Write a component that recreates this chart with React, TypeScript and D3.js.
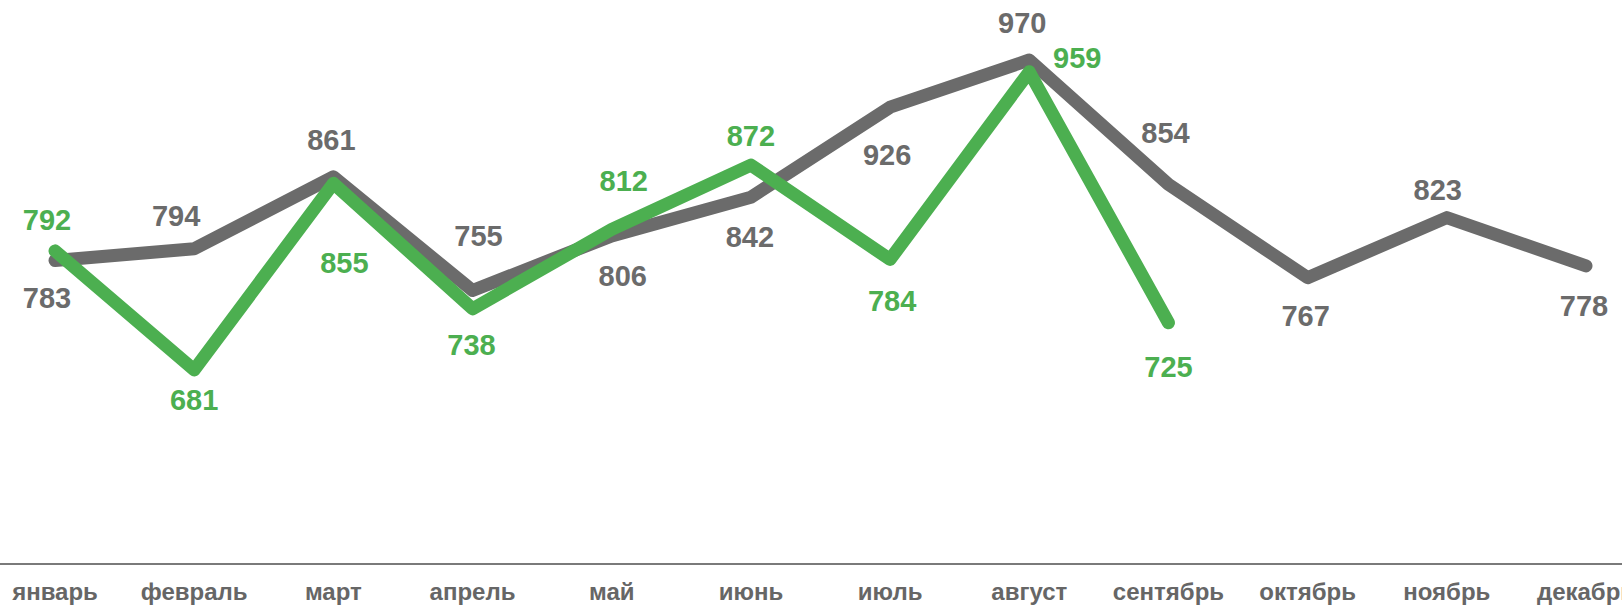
import React, { useEffect, useRef } from "react"
import * as d3 from "d3"

// months on the x axis
const months = [
  "январь", "февраль", "март", "апрель", "май", "июнь",
  "июль", "август", "сентябрь", "октябрь", "ноябрь", "декабрь",
]
// previous year (gray) and current year (green)
const grayValues = [783, 794, 861, 755, 806, 842, 926, 970, 854, 767, 823, 778]
const greenValues = [792, 681, 855, 738, 812, 872, 784, 959, 725]

// label offsets from the point (dx, dy of label centre)
const grayLabelDx = [-8, -18, -2, 6, 11, -1, -3, -7, -3, -2, -9, -2]
const grayLabelDy = [37, -33, -37, -55, 40, 39, 47, -37, -52, 38, -28, 40]
const greenLabelDx = [-8, 0, 11, -1, 12, 0, 2, 48, 0]
const greenLabelDy = [-31, 30, 79, 36, -49, -30, 41, -14, 44]

const W = 1622
const H = 605
const GRAY = "#6b6b6b"
const GREEN = "#4caf50"

export default function App() {
  const ref = useRef<SVGSVGElement>(null)

  useEffect(() => {
    document.body.style.margin = "0"
    const svg = d3.select(ref.current)
    svg.selectAll("*").remove()

    const x = d3.scalePoint<string>().domain(months).range([55, 1586])
    const y = d3.scaleLinear().domain([500, 970]).range([564, 60])

    const line = d3
      .line<number>()
      .x((d, i) => x(months[i]) as number)
      .y(d => y(d))

    // axis line
    svg
      .append("line")
      .attr("x1", 0)
      .attr("x2", W)
      .attr("y1", y(500))
      .attr("y2", y(500))
      .attr("stroke", "#7a7a7a")
      .attr("stroke-width", 2)

    // month labels
    svg
      .append("g")
      .selectAll("text")
      .data(months)
      .enter()
      .append("text")
      .attr("x", d => x(d) as number)
      .attr("y", 600)
      .attr("text-anchor", "middle")
      .attr("font-family", "'Liberation Sans', Arial, sans-serif")
      .attr("font-weight", "bold")
      .attr("font-size", 24)
      .attr("fill", "#666")
      .text(d => d)

    const series = [
      { values: grayValues, color: GRAY, dx: grayLabelDx, dy: grayLabelDy },
      { values: greenValues, color: GREEN, dx: greenLabelDx, dy: greenLabelDy },
    ]

    series.forEach(s => {
      svg
        .append("path")
        .datum(s.values)
        .attr("d", line)
        .attr("fill", "none")
        .attr("stroke", s.color)
        .attr("stroke-width", 13)
        .attr("stroke-linejoin", "round")
        .attr("stroke-linecap", "round")
    })

    series.forEach(s => {
      svg
        .append("g")
        .selectAll("text")
        .data(s.values)
        .enter()
        .append("text")
        .attr("x", (d, i) => (x(months[i]) as number) + s.dx[i])
        .attr("y", (d, i) => y(d) + s.dy[i])
        .attr("dy", "0.36em")
        .attr("text-anchor", "middle")
        .attr("font-family", "'Liberation Sans', Arial, sans-serif")
        .attr("font-weight", "bold")
        .attr("font-size", 29)
        .attr("fill", s.color)
        .text(d => d)
    })
  }, [])

  return <svg ref={ref} width={W} height={H} style={{ display: "block" }} />
}
